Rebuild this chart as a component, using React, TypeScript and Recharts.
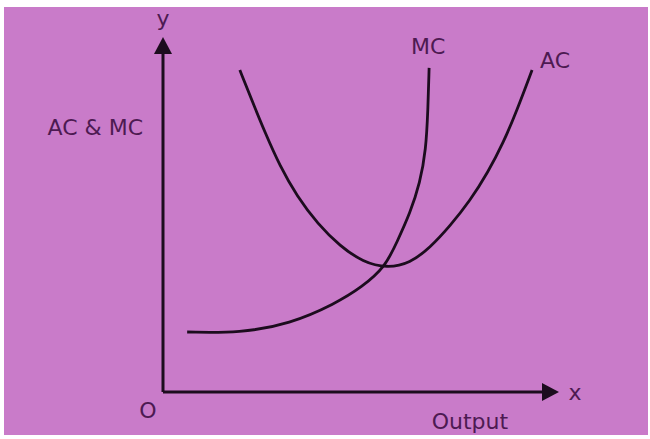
import { LineChart, Line, XAxis, YAxis, ReferenceLine, ReferenceDot } from "recharts";

// marginal cost curve (output, cost)
const mcOutput = [6.1, 19.4, 32.1, 43.4, 50.3, 56.1, 59.1, 62.4, 64.9, 66.4, 66.9, 67.2];
const mcCost = [16.9, 16.6, 19.2, 24.8, 29.6, 35.2, 42.3, 50.4, 58.9, 68.2, 79.4, 91.3];

// average cost curve (output, cost)
const acOutput = [19.4, 22.5, 25.8, 29.5, 33.8, 39.1, 44.7, 50.5, 56.6, 62.4, 67.4, 72.5, 77.5, 82.1, 85.9, 89.4, 93.2];
const acCost = [90.7, 82.0, 73.0, 63.7, 55.2, 47.3, 41.1, 36.6, 34.9, 36.3, 40.6, 46.8, 53.8, 62.0, 70.1, 79.4, 90.7];

const mcData = mcOutput.map((x, i) => ({ x, y: mcCost[i] }));
const acData = acOutput.map((x, i) => ({ x, y: acCost[i] }));

const INK = "#1c0c1e";
const TEXT = "#4d1a52";
const FONT = "DejaVu Sans, Verdana, sans-serif";

function textShape(text: string, dx: number, dy: number, anchor = "middle") {
  return (props: any) => (
    <text
      x={props.cx + dx}
      y={props.cy + dy}
      textAnchor={anchor}
      dominantBaseline="central"
      fill={TEXT}
      fontSize={22}
      fontFamily={FONT}
    >
      {text}
    </text>
  );
}

const upArrow = (props: any) => {
  const { cx, cy } = props;
  return <polygon points={`${cx},${cy} ${cx - 9},${cy + 17} ${cx + 9},${cy + 17}`} fill={INK} />;
};

const rightArrow = (props: any) => {
  const { cx, cy } = props;
  return <polygon points={`${cx},${cy} ${cx - 17},${cy - 9} ${cx - 17},${cy + 9}`} fill={INK} />;
};

export default function App() {
  return (
    <div style={{ position: "absolute", left: 0, top: 0, width: 650, height: 439, background: "#fff" }}>
      <div
        style={{ position: "absolute", left: 4, top: 7, width: 644, height: 428, background: "#c97bc9" }}
      />
      <div style={{ position: "absolute", left: 0, top: 0 }}>
        <LineChart width={650} height={439} margin={{ top: 37, right: 91, bottom: 47, left: 163 }}>
          <XAxis dataKey="x" type="number" domain={[0, 100]} hide />
          <YAxis type="number" domain={[0, 100]} hide />

          {/* axes */}
          <ReferenceLine segment={[{ x: 0, y: 0 }, { x: 0, y: 97 }]} stroke={INK} strokeWidth={3} />
          <ReferenceLine segment={[{ x: 0, y: 0 }, { x: 97, y: 0 }]} stroke={INK} strokeWidth={3} />
          <ReferenceDot x={0} y={100} r={0} shape={upArrow} ifOverflow="visible" />
          <ReferenceDot x={100} y={0} r={0} shape={rightArrow} ifOverflow="visible" />

          <Line
            data={mcData}
            dataKey="y"
            type="basis"
            stroke={INK}
            strokeWidth={2.8}
            dot={false}
            isAnimationActive={false}
          />
          <Line
            data={acData}
            dataKey="y"
            type="basis"
            stroke={INK}
            strokeWidth={2.8}
            dot={false}
            isAnimationActive={false}
          />

          {/* labels */}
          <ReferenceDot x={0} y={100} r={0} shape={textShape("y", 0, -19)} ifOverflow="visible" />
          <ReferenceDot x={100} y={0} r={0} shape={textShape("x", 16, 0)} ifOverflow="visible" />
          <ReferenceDot x={0} y={0} r={0} shape={textShape("O", -15, 18)} ifOverflow="visible" />
          <ReferenceDot x={77.5} y={0} r={0} shape={textShape("Output", 0, 29)} ifOverflow="visible" />
          <ReferenceDot x={0} y={74.4} r={0} shape={textShape("AC & MC", -20, 0, "end")} ifOverflow="visible" />
          <ReferenceDot x={67.2} y={91.3} r={0} shape={textShape("MC", -1, -21)} ifOverflow="visible" />
          <ReferenceDot x={93.2} y={90.7} r={0} shape={textShape("AC", 8, -10, "start")} ifOverflow="visible" />
        </LineChart>
      </div>
    </div>
  );
}
